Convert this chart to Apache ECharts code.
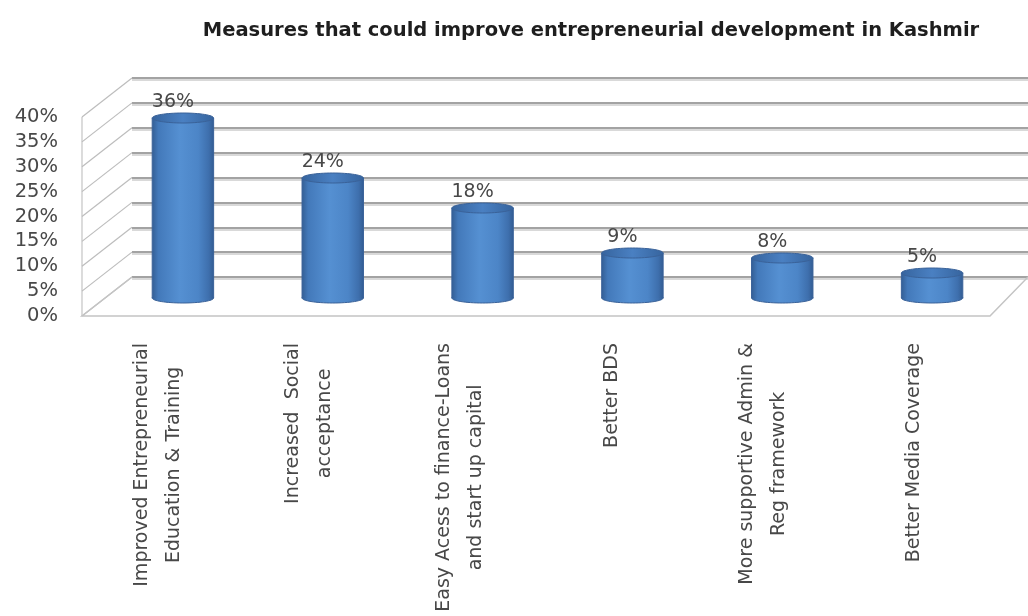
<!DOCTYPE html>
<html>
<head>
<meta charset="utf-8">
<script src="https://cdn.jsdelivr.net/npm/echarts@6/dist/echarts.min.js"></script>
<style>
  html, body { margin: 0; padding: 0; background: #ffffff; }
  #chart { width: 1028px; height: 616px; }
</style>
</head>
<body>
<div id="chart"></div>
<script>
// Chart text and data
const chartTitle = 'Measures that could improve entrepreneurial development in Kashmir';
const categories = [
  'Improved Entrepreneurial\nEducation & Training',
  'Increased  Social\nacceptance',
  'Easy Acess to finance-Loans\nand start up capital',
  'Better BDS',
  'More supportive Admin &\nReg framework',
  'Better Media Coverage'
];
const shares = [36, 24, 18, 9, 8, 5];
const yTicks = [0, 5, 10, 15, 20, 25, 30, 35, 40];

// Pseudo-3D box: the front plane carries the axis labels, the back plane the
// gridlines, and the cylinders stand in the plane half way between them.
const FRONT = { left: 82, right: 38, top: 117, bottom: 300 };
const BACK = { left: 132, right: 0, top: 78, bottom: 339 };
const MID = { left: 108, right: 21, top: 98, bottom: 318 };
const DEPTH = { dx: 50, dy: -39 };

const FONT = 'DejaVu Sans';
const TEXT_GREY = '#484848';

const chart = echarts.init(document.getElementById('chart'), null, { renderer: 'canvas' });

function catLabel(value) {
  return value.split('\n').map(function (l) { return '{c|' + l + '}'; }).join('\n');
}

// Left side wall, front edge and floor outline
function renderWalls(params, api) {
  const cs = params.coordSys;
  const v = api.value(1);
  const y = api.coord([0, v])[1];
  const x0 = cs.x;
  const lineStyle = { stroke: '#bdbdbd', lineWidth: 1.2 };
  const children = [{
    type: 'line',
    shape: { x1: x0, y1: y, x2: x0 + DEPTH.dx, y2: y + DEPTH.dy },
    style: lineStyle
  }];
  if (params.dataIndex === 0) {
    const xr = cs.x + cs.width;
    const backRight = api.getWidth() - BACK.right;
    const yTop = api.coord([0, yTicks[yTicks.length - 1]])[1];
    children.push({
      type: 'polyline',
      shape: { points: [[x0 + DEPTH.dx, y + DEPTH.dy], [x0, y], [xr, y], [backRight, y + DEPTH.dy]] },
      style: { stroke: '#c4c4c4', lineWidth: 1.5, fill: null }
    });
    children.push({
      type: 'line',
      shape: { x1: x0, y1: y, x2: x0, y2: yTop },
      style: { stroke: '#c4c4c4', lineWidth: 1.2 }
    });
  }
  return { type: 'group', children: children };
}

// Cylinder bars with a value label above each
function renderCylinder(params, api) {
  const idx = api.value(0);
  const val = api.value(1);
  const top = api.coord([idx, val]);
  const base = api.coord([idx, 0]);
  const bandW = api.size([1, 0])[0];
  const rx = bandW * 0.205;
  const ry = 5;
  const cx = top[0];
  const body = new echarts.graphic.LinearGradient(0, 0, 1, 0, [
    { offset: 0, color: '#345f95' },
    { offset: 0.1, color: '#4379ba' },
    { offset: 0.45, color: '#5590d2' },
    { offset: 0.75, color: '#4c85c7' },
    { offset: 0.92, color: '#3e6fad' },
    { offset: 1, color: '#335d93' }
  ]);
  const cap = new echarts.graphic.LinearGradient(0, 0, 1, 0, [
    { offset: 0, color: '#36649e' },
    { offset: 0.5, color: '#4a80c2' },
    { offset: 1, color: '#36649e' }
  ]);
  return {
    type: 'group',
    children: [
      {
        type: 'ellipse',
        shape: { cx: cx, cy: base[1], rx: rx, ry: ry },
        style: { fill: body, stroke: '#3a6299', lineWidth: 1 }
      },
      {
        type: 'rect',
        shape: { x: cx - rx, y: top[1], width: rx * 2, height: base[1] - top[1] },
        style: { fill: body }
      },
      {
        type: 'line',
        shape: { x1: cx - rx, y1: top[1], x2: cx - rx, y2: base[1] },
        style: { stroke: '#3a6299', lineWidth: 1 }
      },
      {
        type: 'line',
        shape: { x1: cx + rx, y1: top[1], x2: cx + rx, y2: base[1] },
        style: { stroke: '#3a6299', lineWidth: 1 }
      },
      {
        type: 'ellipse',
        shape: { cx: cx, cy: top[1], rx: rx, ry: ry },
        style: { fill: cap, stroke: '#3a6299', lineWidth: 1 }
      },
      {
        type: 'text',
        style: {
          text: val + '%',
          x: cx - 10,
          y: top[1] - ry - 11,
          align: 'center',
          verticalAlign: 'middle',
          fontFamily: FONT,
          fontSize: 19,
          fill: TEXT_GREY
        }
      }
    ]
  };
}

const option = {
  backgroundColor: '#ffffff',
  animation: false,
  title: {
    text: chartTitle,
    left: 586,
    top: 16,
    textAlign: 'center',
    textStyle: { fontFamily: FONT, fontWeight: 'bold', fontSize: 19.5, color: '#1e1e1e' }
  },
  grid: [
    Object.assign({}, BACK),
    Object.assign({}, FRONT),
    Object.assign({}, MID)
  ],
  xAxis: [
    { gridIndex: 0, type: 'category', data: categories, show: false },
    {
      gridIndex: 1,
      type: 'category',
      data: categories,
      axisLine: { show: false },
      axisTick: { show: false },
      axisLabel: {
        interval: 0,
        rotate: 90,
        margin: 27,
        formatter: catLabel,
        fontFamily: FONT,
        fontSize: 19,
        color: TEXT_GREY,
        rich: {
          c: { align: 'center', fontFamily: FONT, fontSize: 19, lineHeight: 32, color: TEXT_GREY }
        }
      }
    },
    { gridIndex: 2, type: 'category', data: categories, show: false }
  ],
  yAxis: [
    {
      gridIndex: 0,
      type: 'value',
      min: 0,
      max: 40,
      interval: 5,
      axisLabel: { show: false },
      axisLine: { show: false },
      axisTick: { show: false },
      splitLine: {
        show: true,
        lineStyle: { color: '#a3a3a3', width: 2, shadowColor: '#d9d9d9', shadowOffsetY: 2, shadowBlur: 0 }
      }
    },
    {
      gridIndex: 1,
      type: 'value',
      min: 0,
      max: 40,
      interval: 5,
      axisLine: { show: false },
      axisTick: { show: false },
      splitLine: { show: false },
      axisLabel: {
        margin: 24,
        formatter: '{value}%',
        fontFamily: FONT,
        fontSize: 19.5,
        color: TEXT_GREY
      }
    },
    {
      gridIndex: 2,
      type: 'value',
      min: 0,
      max: 40,
      interval: 5,
      show: false,
      splitLine: { show: false }
    }
  ],
  series: [
    {
      name: 'walls',
      type: 'custom',
      xAxisIndex: 1,
      yAxisIndex: 1,
      z: 1,
      silent: true,
      renderItem: renderWalls,
      data: yTicks.map(function (v) { return [0, v]; })
    },
    {
      name: 'Share of respondents',
      type: 'custom',
      xAxisIndex: 2,
      yAxisIndex: 2,
      z: 5,
      renderItem: renderCylinder,
      data: shares.map(function (v, i) { return [i, v]; })
    }
  ]
};

chart.setOption(option);
</script>
</body>
</html>
